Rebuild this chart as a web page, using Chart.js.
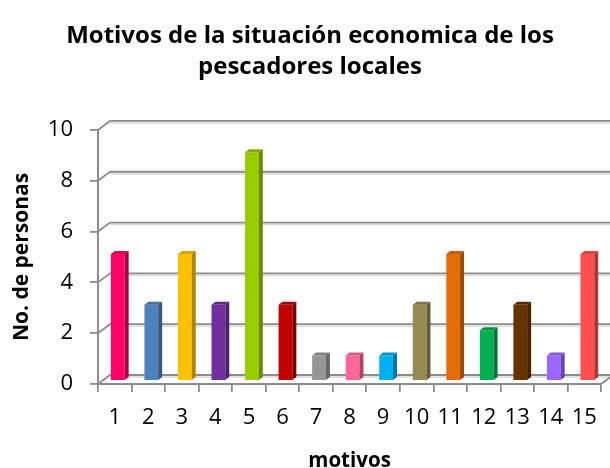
<!DOCTYPE html>
<html>
<head>
<meta charset="utf-8">
<script src="https://cdn.jsdelivr.net/npm/chart.js@4"></script>
<style>
  html, body { margin: 0; padding: 0; background: #fff; }
  #wrap { width: 610px; height: 468px; }
</style>
</head>
<body>
<div id="wrap"><canvas id="chart"></canvas></div>
<script>
// data
const motivos = ['1', '2', '3', '4', '5', '6', '7', '8', '9', '10', '11', '12', '13', '14', '15'];
const personas = [5, 3, 5, 3, 9, 3, 1, 1, 1, 3, 5, 2, 3, 1, 5];
const barColors = ['#FF0066', '#4F81BD', '#FFC000', '#7030A0', '#99CC00', '#C00000', '#969696', '#FF6699',
  '#00B0F0', '#948A54', '#E46C0A', '#00B050', '#663300', '#9966FF', '#FF5050'];
const yTicks = [0, 2, 4, 6, 8, 10];

const FONT = '"Open Sans", "Noto Sans", sans-serif';
const GRID = '#8c8c8c';
const DX = 12, DY = -9;      // back wall offset
const BX = 3, BY = -3;       // bars sit a bit behind the front axis
const DEPTH_X = 4, DEPTH_Y = -3;

function shade(hex, f) {
  const n = parseInt(hex.slice(1), 16);
  const r = Math.round(((n >> 16) & 255) * f), g = Math.round(((n >> 8) & 255) * f), b = Math.round((n & 255) * f);
  return 'rgb(' + r + ',' + g + ',' + b + ')';
}

// back wall gridlines and the little diagonals to the front axis
const wall = {
  id: 'wall',
  beforeDatasetsDraw(chart) {
    const { ctx, chartArea, scales: { y } } = chart;
    ctx.save();
    yTicks.forEach(v => {
      const py = y.getPixelForValue(v);
      ctx.strokeStyle = '#d8d8d8';
      ctx.lineWidth = 1.5;
      ctx.beginPath();
      ctx.moveTo(chartArea.left + DX, py + DY + 2);
      ctx.lineTo(chart.width, py + DY + 2);
      ctx.stroke();
      ctx.strokeStyle = GRID;
      ctx.lineWidth = 1.8;
      ctx.beginPath();
      ctx.moveTo(chartArea.left, py);
      ctx.lineTo(chartArea.left + DX, py + DY);
      ctx.lineTo(chart.width, py + DY);
      ctx.stroke();
    });
    // right edge of the floor
    ctx.beginPath();
    ctx.moveTo(chartArea.right, chartArea.bottom);
    ctx.lineTo(chartArea.right + DX, chartArea.bottom + DY);
    ctx.stroke();
    ctx.restore();
    ctx.save();
    ctx.translate(BX, BY);
  },
  afterDatasetsDraw(chart) {
    const { ctx } = chart;
    const meta = chart.getDatasetMeta(0);
    meta.data.forEach((bar, i) => {
      const c = barColors[i];
      const l = bar.x - bar.width / 2, r = bar.x + bar.width / 2;
      const t = bar.y, b = bar.base;
      ctx.fillStyle = shade(c, 0.85);
      ctx.beginPath();
      ctx.moveTo(l, t);
      ctx.lineTo(l + DEPTH_X, t + DEPTH_Y);
      ctx.lineTo(r + DEPTH_X, t + DEPTH_Y);
      ctx.lineTo(r, t);
      ctx.closePath();
      ctx.fill();
      ctx.fillStyle = shade(c, 0.68);
      ctx.beginPath();
      ctx.moveTo(r, t);
      ctx.lineTo(r + DEPTH_X, t + DEPTH_Y);
      ctx.lineTo(r + DEPTH_X, b + DEPTH_Y);
      ctx.lineTo(r, b);
      ctx.closePath();
      ctx.fill();
    });
    ctx.restore();
  }
};

new Chart(document.getElementById('chart'), {
  type: 'bar',
  data: {
    labels: motivos,
    datasets: [{ data: personas, backgroundColor: barColors, barPercentage: 0.82, categoryPercentage: 0.5 }]
  },
  options: {
    responsive: true,
    maintainAspectRatio: false,
    animation: false,
    events: [],
    layout: { padding: { left: 12, right: 2, top: 0, bottom: 0 } },
    plugins: {
      legend: { display: false },
      tooltip: { enabled: false },
      title: {
        display: true,
        text: ['Motivos de la situación economica de los', 'pescadores locales'],
        color: '#000',
        font: { family: FONT, size: 24, weight: 'bold', lineHeight: 1.29 },
        padding: { top: 21, bottom: 47 }
      }
    },
    scales: {
      x: {
        grid: { display: true, drawOnChartArea: false, drawTicks: true, tickLength: 8, offset: true, color: GRID, lineWidth: 1.8 },
        border: { display: true, color: GRID, width: 2 },
        ticks: { color: '#000', font: { family: FONT, size: 22 }, padding: 13, maxRotation: 0, autoSkip: false },
        title: { display: true, text: 'motivos', color: '#000', font: { family: FONT, size: 20.5, weight: 'bold', lineHeight: 1 }, padding: { top: 0, bottom: -3 } },
        afterFit(s) { s.height = 84; }
      },
      y: {
        min: 0, max: 10,
        afterBuildTicks(s) { s.ticks = yTicks.map(v => ({ value: v })); },
        grid: { display: true, drawOnChartArea: false, drawTicks: true, tickLength: 8, color: GRID, lineWidth: 1.8 },
        border: { display: true, color: GRID, width: 2 },
        ticks: { color: '#000', font: { family: FONT, size: 22 }, padding: 17 },
        title: { display: true, text: 'No. de personas', color: '#000', font: { family: FONT, size: 21, weight: 'bold', lineHeight: 1 }, padding: { top: 0, bottom: 0 } },
        afterFit(s) { s.width = 86; }
      }
    }
  },
  plugins: [wall]
});
</script>
</body>
</html>
